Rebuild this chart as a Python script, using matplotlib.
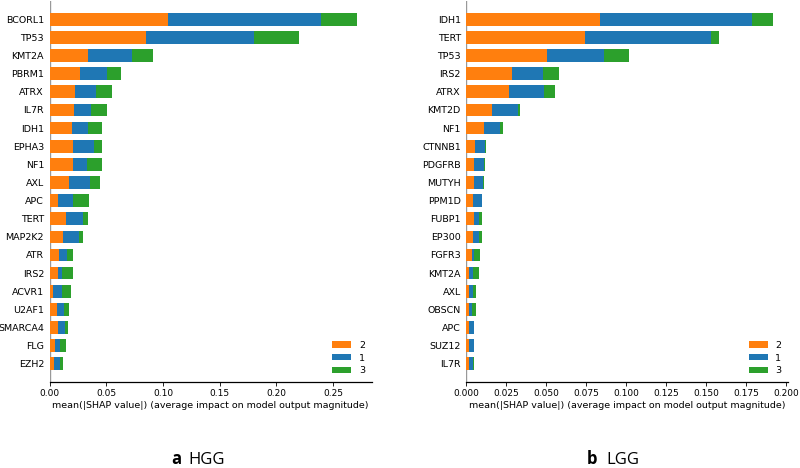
import matplotlib
matplotlib.use('Agg')
import matplotlib.pyplot as plt
import numpy as np

# HGG: mean |SHAP| per class, top feature first
hgg_genes = ['BCORL1', 'TP53', 'KMT2A', 'PBRM1', 'ATRX', 'IL7R', 'IDH1', 'EPHA3', 'NF1', 'AXL',
             'APC', 'TERT', 'MAP2K2', 'ATR', 'IRS2', 'ACVR1', 'U2AF1', 'SMARCA4', 'FLG', 'EZH2']
hgg_c2 = [0.104, 0.085, 0.034, 0.0265, 0.0224, 0.0212, 0.0197, 0.0209, 0.0206, 0.0171,
          0.0076, 0.0144, 0.0121, 0.0079, 0.0074, 0.0032, 0.0062, 0.0071, 0.0047, 0.0041]
hgg_c1 = [0.135, 0.095, 0.039, 0.024, 0.0185, 0.0153, 0.0144, 0.0179, 0.0126, 0.0182,
          0.0133, 0.0153, 0.0141, 0.0077, 0.0032, 0.0074, 0.0065, 0.0068, 0.0041, 0.0053]
hgg_c3 = [0.032, 0.040, 0.0185, 0.0126, 0.0141, 0.0144, 0.0121, 0.0074, 0.013, 0.0094,
          0.0138, 0.0044, 0.0032, 0.0053, 0.010, 0.0085, 0.0044, 0.0026, 0.0059, 0.0024]

# LGG
lgg_genes = ['IDH1', 'TERT', 'TP53', 'IRS2', 'ATRX', 'KMT2D', 'NF1', 'CTNNB1', 'PDGFRB', 'MUTYH',
             'PPM1D', 'FUBP1', 'EP300', 'FGFR3', 'KMT2A', 'AXL', 'OBSCN', 'APC', 'SUZ12', 'IL7R']
lgg_c2 = [0.0838, 0.0742, 0.0504, 0.0285, 0.0265, 0.0163, 0.011, 0.0054, 0.0048, 0.0048,
          0.0042, 0.0048, 0.0044, 0.0035, 0.0019, 0.0017, 0.0017, 0.0017, 0.0019, 0.0017]
lgg_c1 = [0.0945, 0.0789, 0.0356, 0.0192, 0.022, 0.0158, 0.010, 0.0065, 0.006, 0.0058,
          0.0054, 0.0031, 0.0037, 0.0013, 0.0021, 0.0027, 0.0016, 0.0029, 0.0027, 0.0023]
lgg_c3 = [0.0136, 0.005, 0.0159, 0.0104, 0.0069, 0.0017, 0.0019, 0.0002, 0.0007, 0.0003,
          0.0004, 0.0021, 0.0015, 0.0035, 0.0039, 0.0016, 0.0025, 0.0002, 0.0002, 0.0008]

class_names = ['2', '1', '3']
class_colors = ['#ff7f0e', '#1f77b4', '#2ca02c']
xlabel = 'mean(|SHAP value|) (average impact on model output magnitude)'


def shap_bar(ax, genes, series, xmax, xticks, fmt):
    n = len(genes)
    y = np.arange(n)[::-1]
    left = np.zeros(n)
    for vals, name, col in zip(series, class_names, class_colors):
        vals = np.array(vals)
        ax.barh(y, vals, 0.7, left=left, color=col, label=name, align='center')
        left = left + vals
    ax.axvline(0, color='#999999', linewidth=1, zorder=-1)
    ax.set_yticks(y)
    ax.set_yticklabels(genes, fontsize=6.8)
    ax.set_ylim(-1, n)
    ax.set_xlim(0, xmax)
    ax.set_xticks(xticks)
    ax.set_xticklabels([fmt % t for t in xticks], fontsize=6.5)
    ax.set_xlabel(xlabel, fontsize=6.8, labelpad=2)
    for s in ['top', 'right', 'left']:
        ax.spines[s].set_visible(False)
    ax.spines['bottom'].set_linewidth(0.9)
    ax.tick_params('y', length=0, pad=4)
    ax.tick_params('x', length=3, width=0.6, pad=2)
    ax.legend(loc='lower right', frameon=False, fontsize=6.8, handlelength=2.0,
              handleheight=0.65, labelspacing=0.4, borderaxespad=0.3)


fig = plt.figure(figsize=(8, 4.68), dpi=100)
ax1 = fig.add_axes([0.062, 0.1838, 0.4025, 0.8140])
ax2 = fig.add_axes([0.583, 0.1838, 0.4018, 0.8140])

shap_bar(ax1, hgg_genes, [hgg_c2, hgg_c1, hgg_c3], 0.284,
         [0.0, 0.05, 0.10, 0.15, 0.20, 0.25], '%.2f')
shap_bar(ax2, lgg_genes, [lgg_c2, lgg_c1, lgg_c3], 0.201,
         [0.0, 0.025, 0.05, 0.075, 0.1, 0.125, 0.15, 0.175, 0.2], '%.3f')

# panel captions under the axes
cap_font = ['Open Sans', 'DejaVu Sans']
cap_y = 1 - 464.5 / 468
fig.text(0.2265, cap_y, 'a', fontsize=12, fontweight='bold', family=cap_font,
         ha='right', va='baseline')
fig.text(0.2354, cap_y, 'HGG', fontsize=12, family=cap_font, ha='left', va='baseline')
fig.text(0.7466, cap_y, 'b', fontsize=12, fontweight='bold', family=cap_font,
         ha='right', va='baseline')
fig.text(0.7584, cap_y, 'LGG', fontsize=12, family=cap_font, ha='left', va='baseline')

fig.savefig('out.png', dpi=100)
